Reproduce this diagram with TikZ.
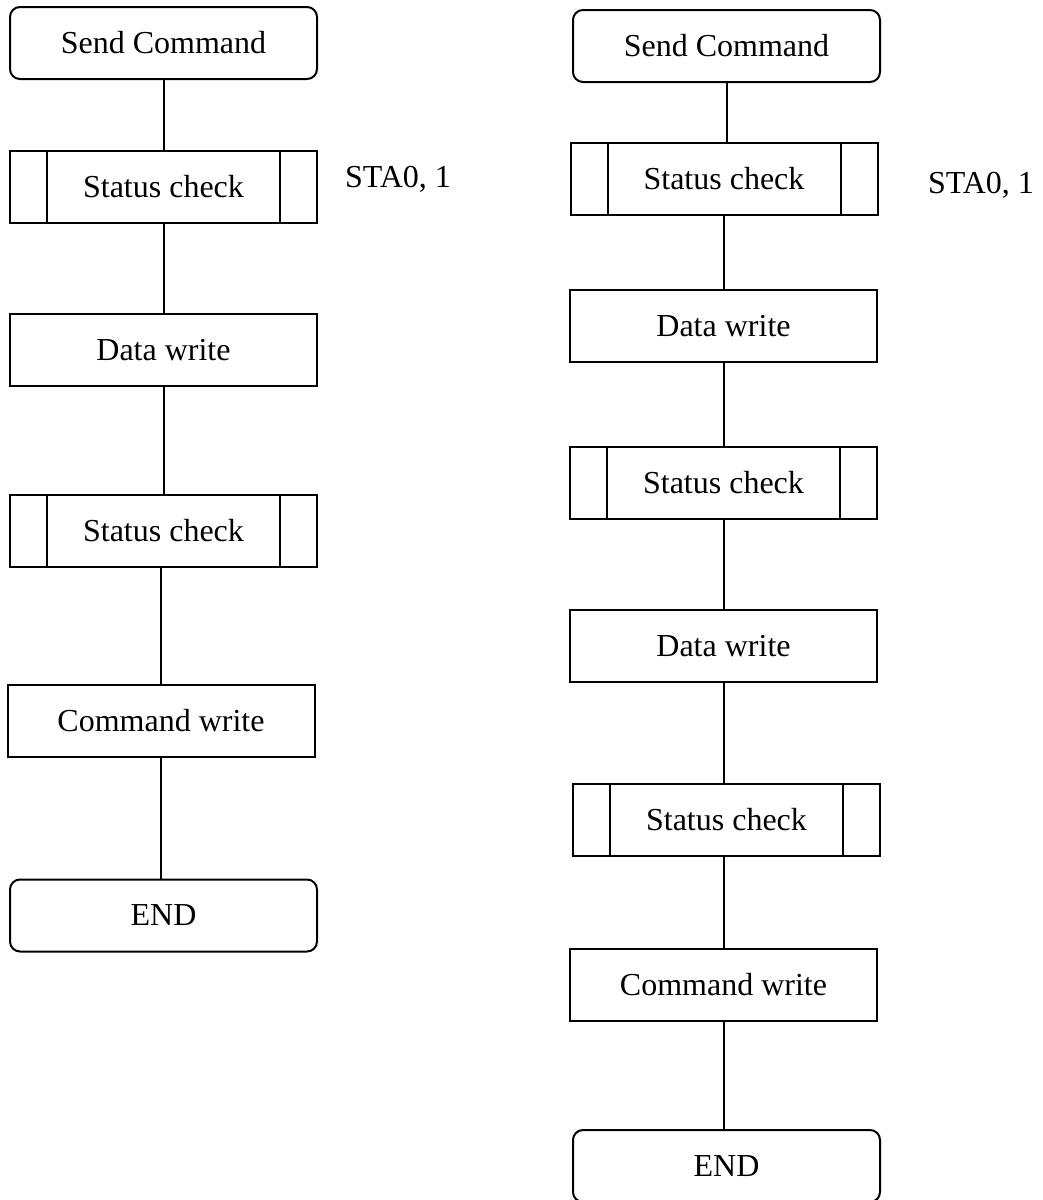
\documentclass[tikz,border=0pt]{standalone}
\usepackage{fontspec}
\setmainfont{Liberation Serif}

\tikzset{
  flowbox/.style={draw, minimum width=307pt, minimum height=72pt, inner sep=0pt,
    font=\fontsize{32}{38}\selectfont},
  termbox/.style={flowbox, rounded corners=10pt},
  procbox/.style={flowbox},
  chkbox/.style={flowbox, path picture={
    \draw ([xshift=37pt]path picture bounding box.north west) -- ([xshift=37pt]path picture bounding box.south west);
    \draw ([xshift=-37pt]path picture bounding box.north east) -- ([xshift=-37pt]path picture bounding box.south east);
  }},
  note/.style={anchor=base west, inner sep=0pt, font=\fontsize{32}{38}\selectfont}
}

\begin{document}
\begin{tikzpicture}[x=1pt, y=-1pt, line width=2pt]

\useasboundingbox (0,0) rectangle (1043,1200);

\node[termbox] (lsend) at (163.5,43)    {Send Command};
\node[chkbox]  (lchk1) at (163.5,187)   {Status check};
\node[procbox] (ldata) at (163.5,350)   {Data write};
\node[chkbox]  (lchk2) at (163.5,531)   {Status check};
\node[procbox] (lcmd)  at (161,721)     {Command write};
\node[termbox] (lend)  at (163.5,915.5) {END};

\node[note] (lsta) at (344,187) {STA0, 1};

\draw (lsend.south) -- (lsend.south |- lchk1.north);
\draw (lchk1.south) -- (lchk1.south |- ldata.north);
\draw (ldata.south) -- (ldata.south |- lchk2.north);
\draw (lcmd.north)  -- (lcmd.north |- lchk2.south);
\draw (lcmd.south)  -- (lcmd.south |- lend.north);

\node[termbox] (rsend)  at (726.5,46)    {Send Command};
\node[chkbox]  (rchk1)  at (724,179)     {Status check};
\node[procbox] (rdata1) at (723.5,326)   {Data write};
\node[chkbox]  (rchk2)  at (723.5,483)   {Status check};
\node[procbox] (rdata2) at (723.5,646)   {Data write};
\node[chkbox]  (rchk3)  at (726.5,819.5) {Status check};
\node[procbox] (rcmd)   at (723.5,985)   {Command write};
\node[termbox] (rend)   at (726.5,1166)  {END};

\node[note] (rsta) at (927,193) {STA0, 1};

\draw (rsend.south)  -- (rsend.south |- rchk1.north);
\draw (rchk1.south)  -- (rchk1.south |- rdata1.north);
\draw (rdata1.south) -- (rdata1.south |- rchk2.north);
\draw (rchk2.south)  -- (rchk2.south |- rdata2.north);
\draw (rdata2.south) -- (rdata2.south |- rchk3.north);
\draw (rcmd.north)   -- (rcmd.north |- rchk3.south);
\draw (rcmd.south)   -- (rcmd.south |- rend.north);

\end{tikzpicture}
\end{document}
